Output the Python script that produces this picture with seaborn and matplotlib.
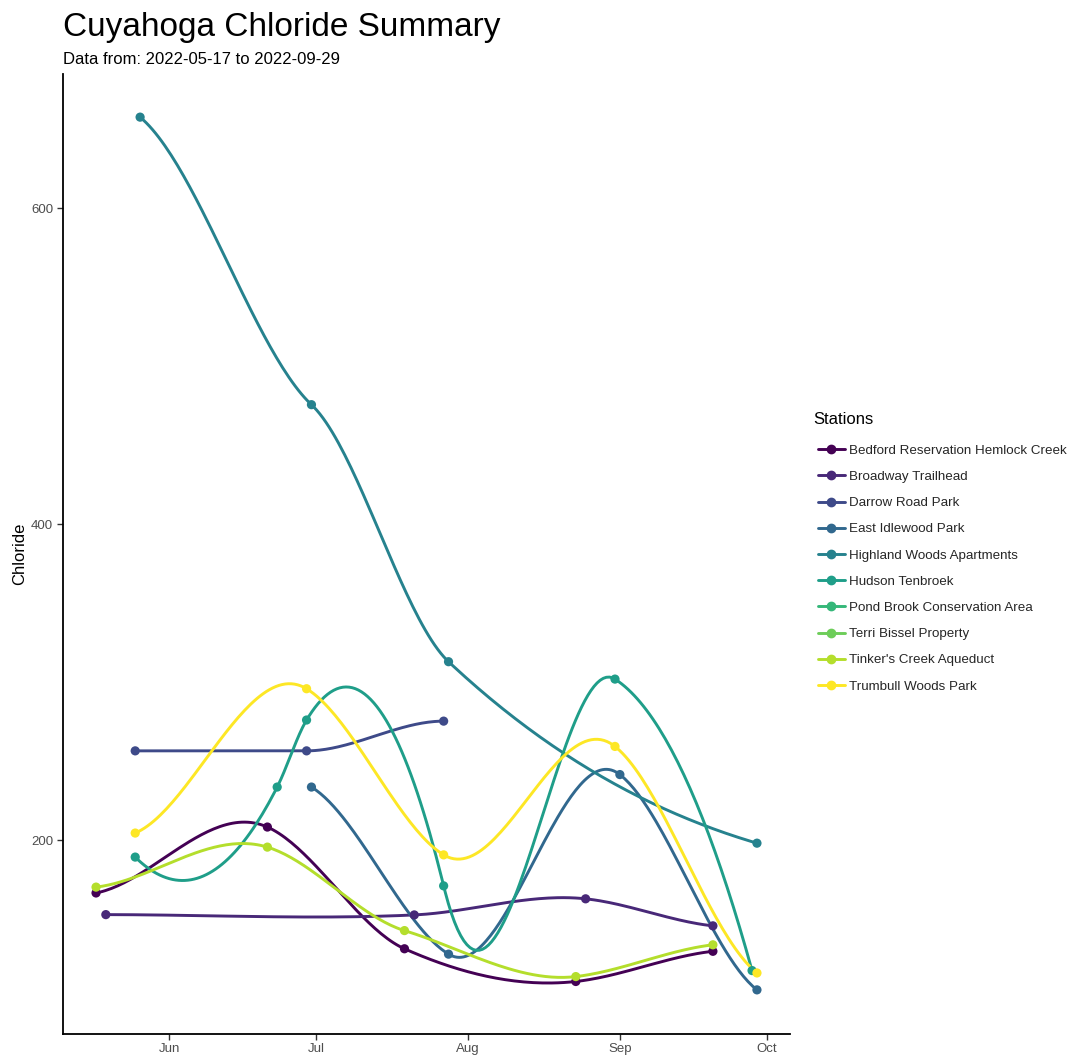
import numpy as np
import pandas as pd
import matplotlib
matplotlib.use("Agg")
import matplotlib.pyplot as plt
import matplotlib.dates as mdates
from matplotlib.lines import Line2D
import seaborn as sns

# ---------------- data ----------------
stations = [
    "Bedford Reservation Hemlock Creek",
    "Broadway Trailhead",
    "Darrow Road Park",
    "East Idlewood Park",
    "Highland Woods Apartments",
    "Hudson Tenbroek",
    "Pond Brook Conservation Area",
    "Terri Bissel Property",
    "Tinker's Creek Aqueduct",
    "Trumbull Woods Park",
]
palette = ["#440154", "#482878", "#3E4A89", "#31688E", "#26828E",
           "#1F9E89", "#35B779", "#6DCD59", "#B4DE2C", "#FDE725"]

bedford_dates = ["2022-05-17", "2022-06-21", "2022-07-19", "2022-08-23", "2022-09-20"]
bedford_vals = [166.7, 208.4, 131.4, 110.7, 129.8]

broadway_dates = ["2022-05-19", "2022-07-21", "2022-08-25", "2022-09-20"]
broadway_vals = [153.0, 152.8, 163.0, 145.9]

darrow_dates = ["2022-05-25", "2022-06-29", "2022-07-27"]
darrow_vals = [256.6, 256.6, 275.4]

idlewood_dates = ["2022-06-30", "2022-07-28", "2022-09-01", "2022-09-29"]
idlewood_vals = [233.7, 128.0, 241.6, 105.4]

highland_dates = ["2022-05-26", "2022-06-30", "2022-07-28", "2022-09-29"]
highland_vals = [657.5, 475.6, 313.0, 198.2]

hudson_dates = ["2022-05-25", "2022-06-23", "2022-06-29", "2022-07-27", "2022-08-31", "2022-09-28"]
hudson_vals = [189.4, 233.7, 276.1, 171.2, 302.0, 117.6]

pondbrook_dates = []
pondbrook_vals = []

terri_dates = []
terri_vals = []

tinkers_dates = ["2022-05-17", "2022-06-21", "2022-07-19", "2022-08-23", "2022-09-20"]
tinkers_vals = [170.4, 195.7, 142.9, 113.8, 133.9]

trumbull_dates = ["2022-05-25", "2022-06-29", "2022-07-27", "2022-08-31", "2022-09-29"]
trumbull_vals = [204.6, 295.9, 190.8, 259.4, 116.1]

series = {
    stations[0]: (bedford_dates, bedford_vals),
    stations[1]: (broadway_dates, broadway_vals),
    stations[2]: (darrow_dates, darrow_vals),
    stations[3]: (idlewood_dates, idlewood_vals),
    stations[4]: (highland_dates, highland_vals),
    stations[5]: (hudson_dates, hudson_vals),
    stations[6]: (pondbrook_dates, pondbrook_vals),
    stations[7]: (terri_dates, terri_vals),
    stations[8]: (tinkers_dates, tinkers_vals),
    stations[9]: (trumbull_dates, trumbull_vals),
}

title = "Cuyahoga Chloride Summary"
subtitle = "Data from: 2022-05-17 to 2022-09-29"
y_label = "Chloride"
legend_title = "Stations"


# ------------- loess smoother (local quadratic, span 0.75, kd-tree vertex
# ------------- fits + cubic Hermite interpolation, like R's loess) -------------
def _local_fit(x, y, x0, span=0.75):
    n = len(x)
    q = max(1, int(np.floor(n * span)))
    d = x - x0
    ad = np.abs(d)
    order = np.argsort(ad, kind="stable")[:q]
    rho = ad[order[-1]]
    if rho <= 0:
        return float(y[order[0]]), 0.0
    u = ad[order] / rho
    w = np.where(u < 1, (1 - u ** 3) ** 3, 0.0)
    sw = np.sqrt(w)
    dd = d[order]
    X = np.column_stack([np.ones(q), dd, dd ** 2]) * sw[:, None]
    r = sw * y[order]
    cn = np.sqrt((X ** 2).sum(axis=0))
    cn[cn == 0] = 1.0
    b = np.linalg.pinv(X / cn, rcond=100 * np.finfo(float).eps) @ r
    b = b / cn
    return float(b[0]), float(b[1])


def loess_curve(x, y, n_out=200, span=0.75):
    x = np.asarray(x, float)
    y = np.asarray(y, float)
    if len(x) < 3:
        return x, y
    vals, slopes = zip(*[_local_fit(x, y, xv, span) for xv in x])
    vals = np.array(vals)
    slopes = np.array(slopes)
    xx = np.linspace(x[0], x[-1], n_out)
    i = np.clip(np.searchsorted(x, xx, side="right") - 1, 0, len(x) - 2)
    h = x[i + 1] - x[i]
    s = (xx - x[i]) / h
    h00 = (1 - s) ** 2 * (1 + 2 * s)
    h01 = s ** 2 * (3 - 2 * s)
    h10 = s * (1 - s) ** 2
    h11 = -s ** 2 * (1 - s)
    yy = h00 * vals[i] + h01 * vals[i + 1] + h * (h10 * slopes[i] + h11 * slopes[i + 1])
    return xx, yy


# ---------------- frames ----------------
pts_rows, curve_rows = [], []
for st in stations:
    d, v = series[st]
    if len(d) == 0:
        continue
    xnum = mdates.date2num(pd.to_datetime(d))
    for xx, yy in zip(xnum, v):
        pts_rows.append((st, xx, yy))
    cx, cy = loess_curve(xnum, v)
    for xx, yy in zip(cx, cy):
        curve_rows.append((st, xx, yy))
pts = pd.DataFrame(pts_rows, columns=["Station", "Date", "Chloride"])
curve = pd.DataFrame(curve_rows, columns=["Station", "Date", "Chloride"])

# ---------------- plot ----------------
sns.set_theme(style="ticks")
plt.rcParams["font.family"] = ["Liberation Sans", "DejaVu Sans"]

W, H = 1068, 1055
fig = plt.figure(figsize=(W / 100, H / 100), dpi=100)
ax = fig.add_axes([63 / W, 1 - 1033.5 / H, (790 - 63) / W, (1033.5 - 73.5) / H])

pal = dict(zip(stations, palette))
sns.lineplot(data=curve, x="Date", y="Chloride", hue="Station", hue_order=stations,
             palette=pal, estimator=None, sort=False, units="Station",
             linewidth=2.1, legend=False, ax=ax)
sns.scatterplot(data=pts, x="Date", y="Chloride", hue="Station", hue_order=stations,
                palette=pal, s=44, linewidth=0, legend=False, ax=ax, zorder=3)

# limits with ggplot-style 5% expansion
xmin, xmax = pts["Date"].min(), pts["Date"].max()
ymin, ymax = pts["Chloride"].min(), pts["Chloride"].max()
ax.set_xlim(xmin - 0.05 * (xmax - xmin), xmax + 0.05 * (xmax - xmin))
ax.set_ylim(ymin - 0.05 * (ymax - ymin), ymax + 0.05 * (ymax - ymin))

ax.xaxis.set_major_locator(mdates.MonthLocator())
ax.xaxis.set_major_formatter(mdates.DateFormatter("%b"))
ax.set_yticks([200, 400, 600])
ax.set_xlabel("")
ax.set_ylabel(y_label, fontsize=12, color="black", labelpad=3)

for sp in ["top", "right"]:
    ax.spines[sp].set_visible(False)
for sp in ["left", "bottom"]:
    ax.spines[sp].set_color("black")
    ax.spines[sp].set_linewidth(1.3)
ax.tick_params(axis="both", colors="#333333", labelcolor="#4D4D4D", labelsize=9.5,
               length=4, width=1.0, pad=3)

fig.text(63 / W, 1 - 12 / H, title, fontsize=24, va="top", ha="left", color="black")
fig.text(63 / W, 1 - 52 / H, subtitle, fontsize=12, va="top", ha="left", color="black")

fig.text(813 / W, 1 - 419 / H, legend_title, fontsize=12, va="center", ha="left", color="black")
handles = [Line2D([0], [0], color=c, lw=2.1, marker="o", markersize=6) for c in palette]
leg = fig.legend(handles, stations, loc="upper left",
                 bbox_to_anchor=(818 / W, 1 - 444.5 / H), frameon=False,
                 fontsize=9.6, handlelength=2.0, handletextpad=0.3,
                 labelspacing=1.04, borderaxespad=0, borderpad=0)

fig.savefig("out.png", dpi=100, facecolor="white")
